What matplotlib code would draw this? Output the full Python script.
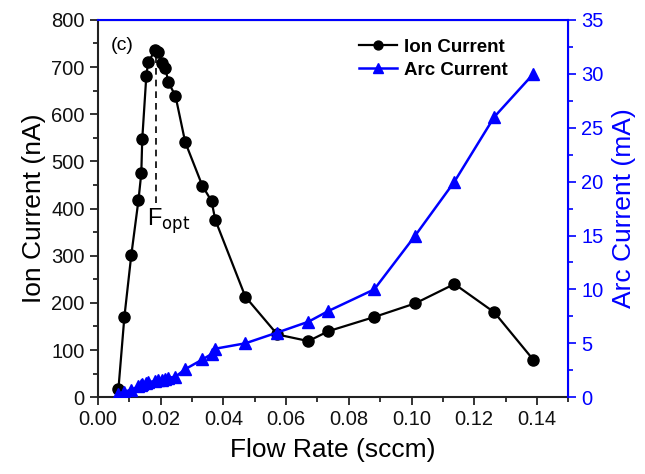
import matplotlib
matplotlib.use("Agg")
import matplotlib.pyplot as plt
from matplotlib.ticker import MultipleLocator

plt.rcParams['font.family'] = ['Liberation Sans', 'DejaVu Sans']

# Flow rate (sccm) and measured currents
flow = [0.0065, 0.0084, 0.0106, 0.0129, 0.0138, 0.0141, 0.0154, 0.0160, 0.0183,
        0.0192, 0.0205, 0.0215, 0.0224, 0.0247, 0.0278, 0.0333, 0.0362, 0.0374,
        0.0470, 0.0572, 0.0671, 0.0735, 0.0881, 0.1012, 0.1137, 0.1264, 0.1389]
ion_current = [17, 170, 301, 418, 475, 547, 681, 711, 736,
               732, 709, 698, 668, 639, 541, 448, 416, 376,
               213, 133, 119, 140, 170, 199, 240, 180, 79]
arc_current = [0.3, 0.5, 0.7, 1.0, 1.1, 1.2, 1.3, 1.4, 1.5,
               1.6, 1.6, 1.7, 1.8, 1.9, 2.6, 3.5, 4.0, 4.5,
               5.0, 6.0, 7.0, 8.0, 10.0, 15.0, 20.0, 26.0, 30.0]
f_opt = 0.0186
f_opt_top = 736
f_opt_bottom = 412

fig = plt.figure(figsize=(6.45, 4.74), dpi=100)
ax = fig.add_axes([0.152, 0.162, 0.729, 0.796])
ax2 = ax.twinx()

l1, = ax.plot(flow, ion_current, color='black', lw=1.6, marker='o', ms=8,
              label='Ion Current', zorder=3)
l2, = ax2.plot(flow, arc_current, color='blue', lw=1.8, marker='^', ms=9,
               label='Arc Current', zorder=3)

ax.vlines(f_opt, f_opt_bottom, f_opt_top - 10, colors='black',
          linestyles=(0, (4, 3)), lw=1.2)
ax.text(0.0155, f_opt_bottom - 8, r'F$_{\mathrm{opt}}$', fontsize=17,
        ha='left', va='top')
ax.text(0.004, 764, '(c)', fontsize=14, ha='left', va='top')

ax.set_xlim(0, 0.15)
ax.set_ylim(0, 800)
ax2.set_ylim(0, 35)

ax.xaxis.set_major_locator(MultipleLocator(0.02))
ax.xaxis.set_minor_locator(MultipleLocator(0.01))
ax.yaxis.set_major_locator(MultipleLocator(100))
ax.yaxis.set_minor_locator(MultipleLocator(50))
ax2.yaxis.set_major_locator(MultipleLocator(5))
ax2.yaxis.set_minor_locator(MultipleLocator(2.5))
ax.set_xticks([0, 0.02, 0.04, 0.06, 0.08, 0.10, 0.12, 0.14])
ax.set_xticklabels(['0.00', '0.02', '0.04', '0.06', '0.08', '0.10', '0.12', '0.14'])

ax.tick_params(axis='both', which='major', direction='out', length=6, width=1.2,
               labelsize=14.5, colors='#111111')
ax.tick_params(axis='both', which='minor', direction='out', length=3.5, width=1.2,
               colors='#111111')
ax2.tick_params(axis='y', which='major', direction='out', length=6, width=1.2,
                labelsize=14.5, colors='blue')
ax2.tick_params(axis='y', which='minor', direction='out', length=3.5, width=1.2,
                colors='blue')

# blue top spine with inward ticks
ax2.xaxis.set_ticks_position('top')
ax2.tick_params(axis='x', which='both', direction='in', length=4, width=1.2,
                colors='blue', labeltop=False)

for side in ['left', 'bottom']:
    ax.spines[side].set_linewidth(1.5)
    ax.spines[side].set_color('#222222')
ax2.spines['right'].set_color('blue')
ax2.spines['top'].set_color('blue')
ax2.spines['right'].set_linewidth(1.5)
ax2.spines['top'].set_linewidth(1.5)
ax2.spines['left'].set_visible(False)
ax2.spines['bottom'].set_visible(False)

ax.set_xlabel('Flow Rate (sccm)', fontsize=19, labelpad=6)
ax.set_ylabel('Ion Current (nA)', fontsize=19, labelpad=4)
ax2.set_ylabel('Arc Current (mA)', fontsize=19, color='blue', labelpad=6)

leg = ax2.legend(handles=[l1, l2], loc='upper left', bbox_to_anchor=(0.52, 0.995),
                 frameon=False, prop={'weight': 'bold', 'size': 13.5},
                 handlelength=2.0, handletextpad=0.4, labelspacing=0.3,
                 markerscale=0.8)

fig.savefig('out.png', dpi=100)
